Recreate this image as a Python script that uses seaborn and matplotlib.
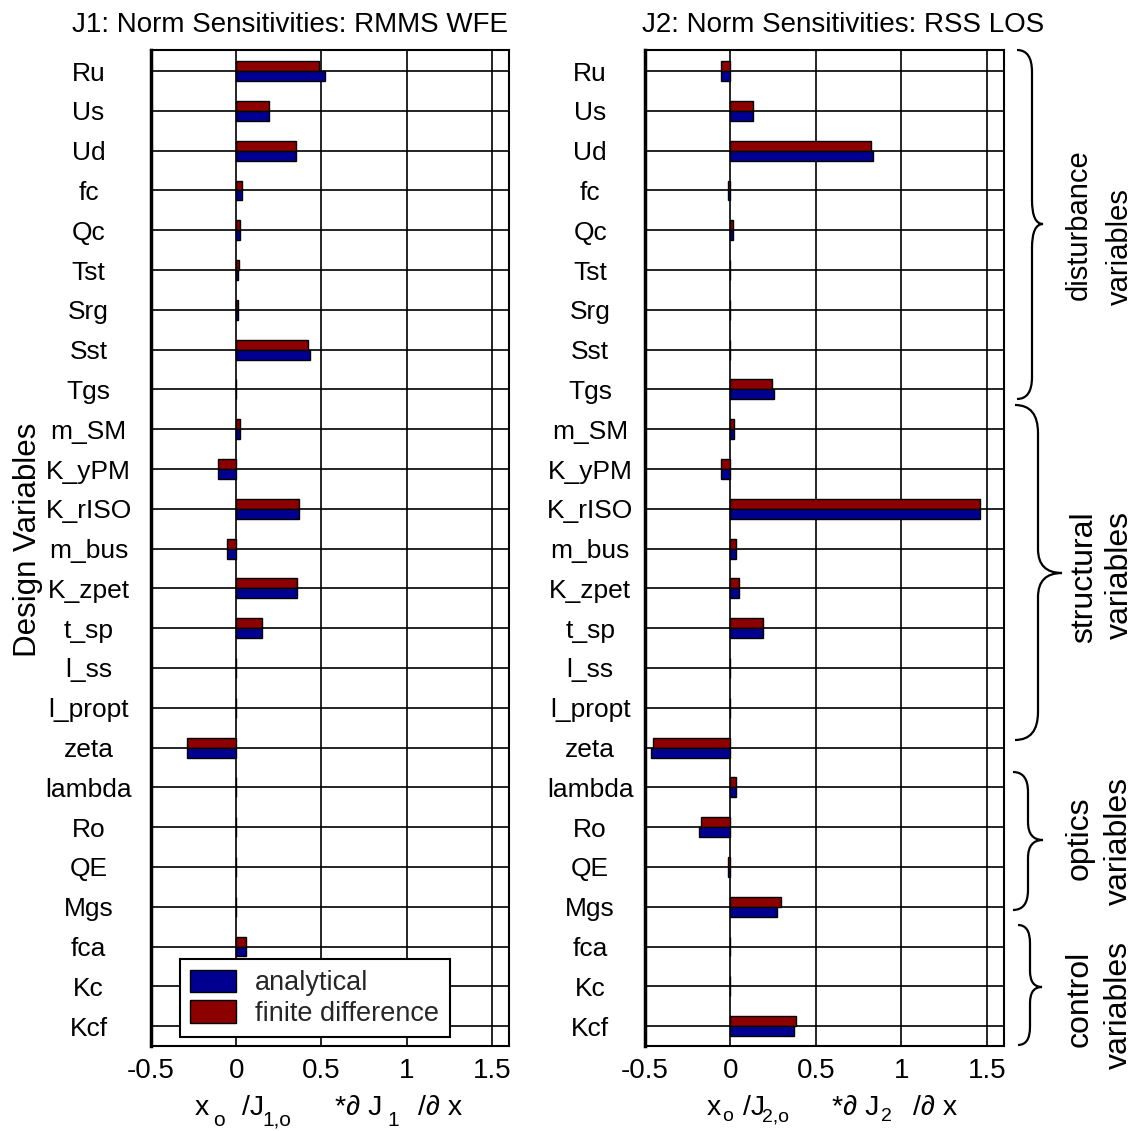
import matplotlib
matplotlib.use('Agg')
import matplotlib.pyplot as plt
import seaborn as sns
import pandas as pd
from matplotlib.path import Path
from matplotlib.patches import PathPatch, Patch

# ---------------- data ----------------
variables = ['Ru', 'Us', 'Ud', 'fc', 'Qc', 'Tst', 'Srg', 'Sst', 'Tgs', 'm_SM', 'K_yPM',
             'K_rISO', 'm_bus', 'K_zpet', 't_sp', 'l_ss', 'l_propt', 'zeta', 'lambda',
             'Ro', 'QE', 'Mgs', 'fca', 'Kc', 'Kcf']
j1_analytical = [0.518, 0.195, 0.348, 0.035, 0.023, 0.012, 0.012, 0.434, 0.0, 0.023, -0.108,
                 0.369, -0.055, 0.357, 0.152, 0.0, 0.0, -0.29, 0.0, 0.0, 0.0, 0.0, 0.058, 0.0, 0.0]
j1_finite = [0.488, 0.195, 0.348, 0.035, 0.023, 0.014, 0.012, 0.422, 0.0, 0.023, -0.108,
             0.369, -0.055, 0.357, 0.152, 0.0, 0.0, -0.29, 0.0, 0.0, 0.0, 0.0, 0.058, 0.0, 0.0]
j2_analytical = [-0.055, 0.131, 0.834, -0.016, 0.012, 0.0, 0.0, 0.0, 0.252, 0.023, -0.055,
                 1.459, 0.035, 0.047, 0.188, 0.0, 0.0, -0.465, 0.035, -0.184, -0.016, 0.273,
                 0.0, 0.0, 0.369]
j2_finite = [-0.055, 0.131, 0.82, -0.016, 0.012, 0.0, 0.0, 0.0, 0.24, 0.023, -0.055,
             1.459, 0.035, 0.047, 0.188, 0.0, 0.0, -0.451, 0.035, -0.172, -0.016, 0.295,
             0.0, 0.0, 0.381]
methods = ['analytical', 'finite difference']
titles = ['J1: Norm Sensitivities: RMMS WFE', 'J2: Norm Sensitivities: RSS LOS']
xticks = [-0.5, 0, 0.5, 1, 1.5]
xticklabels = ['-0.5', '0', '0.5', '1', '1.5']
groups = [('disturbance', 'variables'), ('structural', 'variables'),
          ('optics', 'variables'), ('control', 'variables')]

colors = {'analytical': '#000090', 'finite difference': '#8C0000'}

# ---------------- style ----------------
sns.set_theme(style='white')
plt.rcParams['font.family'] = ['Liberation Sans', 'DejaVu Sans']

W, H = 1140, 1131
fig = plt.figure(figsize=(W / 100, H / 100), dpi=100)


def fx(x):
    return x / W


def fy(y):
    return 1 - y / H


ax1 = fig.add_axes([fx(151), fy(1046), (509 - 151) / W, 996 / H])
ax2 = fig.add_axes([fx(645), fy(1046), (1004 - 645) / W, 996 / H])


def make_df(a, f):
    rows = []
    for v, va, vf in zip(variables, a, f):
        rows.append({'variable': v, 'method': 'analytical', 'value': va})
        rows.append({'variable': v, 'method': 'finite difference', 'value': vf})
    return pd.DataFrame(rows)


panels = [(ax1, make_df(j1_analytical, j1_finite), 45),
          (ax2, make_df(j2_analytical, j2_finite), 39.5)]

for ax, df, pad in panels:
    sns.barplot(data=df, y='variable', x='value', hue='method',
                hue_order=['finite difference', 'analytical'], order=variables,
                palette=colors, orient='h', width=0.5, errorbar=None,
                edgecolor='black', linewidth=1.0, saturation=1, legend=False, ax=ax)
    ax.set_xlim(-0.5, 1.6)
    ax.set_ylim(24.5, -0.53)
    ax.set_xticks(xticks)
    ax.set_xticklabels(xticklabels)
    ax.set_xlabel('')
    ax.set_ylabel('')
    ax.set_axisbelow(True)
    ax.grid(True, color='black', linewidth=1.2)
    ax.tick_params(axis='y', length=0, pad=pad, labelsize=19, colors='black')
    ax.tick_params(axis='x', length=0, pad=9, labelsize=20, colors='black')
    for lab in ax.get_yticklabels():
        lab.set_horizontalalignment('center')
    for s in ax.spines.values():
        s.set_color('black')
        s.set_linewidth(1.5)
    ax.spines['left'].set_linewidth(2.5)

# legend
handles = [Patch(facecolor=colors[m], edgecolor='black', linewidth=1.0) for m in methods]
leg = ax1.legend(handles, methods, loc='lower left', bbox_to_anchor=(0.081, 0.009),
                 borderaxespad=0, fontsize=19.5, frameon=True, fancybox=False,
                 edgecolor='black', framealpha=1, handlelength=1.7, handleheight=0.9,
                 handletextpad=0.7, borderpad=0.38, labelspacing=0.15)
leg.get_frame().set_linewidth(1.5)

# titles
fig.text(fx(290), fy(31.7), titles[0], ha='center', va='baseline', fontsize=20, color='black')
fig.text(fx(843), fy(31.7), titles[1], ha='center', va='baseline', fontsize=20, color='black')

# y label
fig.text(fx(28), fy(540), 'Design Variables', rotation=90, ha='center', va='center',
         fontsize=22.5, color='black')


# x labels built from pieces
def T(x, y, s, size):
    fig.text(fx(x), fy(y), s, ha='left', va='baseline', fontsize=size, color='black')


T(195, 1115, 'x', 20.5)
T(213, 1126, 'o', 15)
T(242, 1115, '/J', 20.5)
T(262, 1126, '1,o', 15)
T(335, 1115, '*\u2202 J', 20.5)
T(387, 1126, '1', 15)
T(418, 1115, '/\u2202 x', 20.5)

T(707, 1115, 'x', 20.5)
T(722, 1121, 'o', 14)
T(743, 1115, '/J', 20.5)
T(762, 1121, '2,o', 14)
T(832, 1115, '*\u2202 J', 20.5)
T(881, 1121, '2', 14)
T(913, 1115, '/\u2202 x', 20.5)


# braces
def brace(xe, xm, xt, yt, yb, yc, ry, ry2):
    pts = [(xe, yt), (xm, yt), (xm, yt + ry), (xm, yc - ry2), (xm, yc), (xt, yc),
           (xm, yc), (xm, yc + ry2), (xm, yb - ry), (xm, yb), (xe, yb)]
    codes = [Path.MOVETO, Path.CURVE3, Path.CURVE3, Path.LINETO, Path.CURVE3, Path.CURVE3,
             Path.CURVE3, Path.CURVE3, Path.LINETO, Path.CURVE3, Path.CURVE3]
    verts = [(fx(x), fy(y)) for x, y in pts]
    p = PathPatch(Path(verts, codes), fill=False, edgecolor='black', linewidth=1.6,
                  transform=fig.transFigure)
    fig.add_artist(p)


brace(1017, 1032, 1043, 50, 399, 224, 22, 24)
brace(1015, 1038, 1062, 405, 740, 573, 28, 24)
brace(1013, 1028, 1043, 772, 910, 840, 20, 18)
brace(1018, 1030, 1042, 925, 1045, 987, 18, 16)

label_pos = [((1079, 225, 21), (1120, 247, 21)), ((1084, 577, 23), (1120, 575, 23)),
             ((1080, 838, 23), (1119, 841, 23)), ((1080, 999, 23), (1119, 1005, 23))]
for (w1, w2), ((x1, y1, s1), (x2, y2, s2)) in zip(groups, label_pos):
    fig.text(fx(x1), fy(y1), w1, rotation=90, ha='center', va='center', fontsize=s1, color='black')
    fig.text(fx(x2), fy(y2), w2, rotation=90, ha='center', va='center', fontsize=s2, color='black')

fig.savefig('out.png', dpi=100, facecolor='white')
